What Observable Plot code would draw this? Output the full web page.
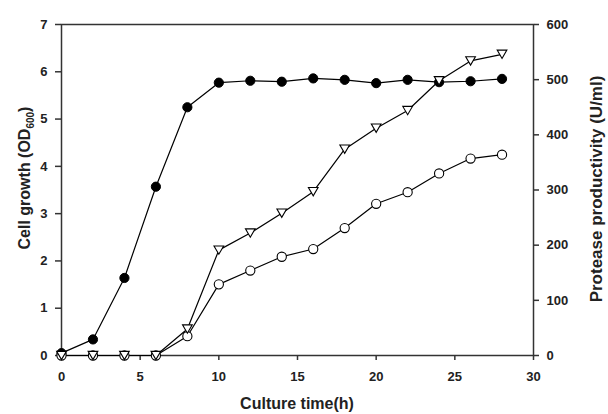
<!DOCTYPE html>
<html>
<head>
<meta charset="utf-8">
<script src="https://cdn.jsdelivr.net/npm/d3@7"></script>
<script src="https://cdn.jsdelivr.net/npm/@observablehq/plot@0.6"></script>
<style>
  html, body { margin: 0; padding: 0; background: white; overflow: hidden; }
  #chart svg { display: block; }
</style>
</head>
<body>
<div id="chart"></div>
<script>
// Culture time (h)
const time = [0, 2, 4, 6, 8, 10, 12, 14, 16, 18, 20, 22, 24, 26, 28];
// Cell growth OD600 (filled circles, left axis)
const cellGrowth = [0.05, 0.34, 1.64, 3.57, 5.25, 5.77, 5.81, 5.79, 5.86, 5.83, 5.76, 5.83, 5.78, 5.80, 5.85];
// Protease productivity U/ml (open triangles, right axis)
const proteaseTri = [0, 0, 0, 0, 48, 191, 222, 258, 297, 374, 412, 444, 498, 534, 546];
// Protease productivity U/ml (open circles, right axis)
const proteaseCirc = [0, 0, 0, 0, 35, 129, 154, 179, 193, 231, 275, 296, 330, 357, 364];

const leftTicks = [0, 1, 2, 3, 4, 5, 6, 7];
const rightTicks = [0, 100, 200, 300, 400, 500, 600];
const xTicks = [0, 5, 10, 15, 20, 25, 30];

const leftMax = 7, rightMax = 600;
const toLeft = v => v * leftMax / rightMax;

const growthData = time.map((t, i) => ({t, v: cellGrowth[i]}));
const triData = time.map((t, i) => ({t, v: toLeft(proteaseTri[i])}));
const circData = time.map((t, i) => ({t, v: toLeft(proteaseCirc[i])}));

const triangleDown = {
  draw(context, size) {
    const s = Math.sqrt(size);
    const h = s * 0.9;
    const w = s * 1.05;
    context.moveTo(-w / 2, -h / 2);
    context.lineTo(w / 2, -h / 2);
    context.lineTo(0, h / 2);
    context.closePath();
  }
};

const axisColor = "#333";
const font = "'Liberation Sans', Arial, sans-serif";

const plot = Plot.plot({
  width: 608,
  height: 414,
  marginLeft: 61,
  marginRight: 75,
  marginTop: 24,
  marginBottom: 59,
  style: {fontFamily: font, fontSize: "13px", fontWeight: "bold", color: "#222", background: "white", overflow: "visible"},
  x: {domain: [0, 30]},
  y: {domain: [0, 7]},
  marks: [
    Plot.frame({stroke: axisColor, strokeWidth: 1.5}),
    Plot.axisX({ticks: xTicks, tickFormat: d => String(d), tickSize: 5, tickPadding: 11, label: null, stroke: axisColor, strokeWidth: 1.5, fontSize: 13, fontWeight: "bold"}),
    Plot.axisY({ticks: leftTicks, tickFormat: d => String(d), tickSize: 6, tickPadding: 8, label: null, stroke: axisColor, strokeWidth: 1.5, fontSize: 13, fontWeight: "bold"}),
    Plot.axisY({anchor: "right", ticks: rightTicks.map(toLeft), tickFormat: v => String(Math.round(v * rightMax / leftMax)), tickSize: 5, tickPadding: 8, label: null, stroke: axisColor, strokeWidth: 1.5, fontSize: 13, fontWeight: "bold"}),
    Plot.line(circData, {x: "t", y: "v", stroke: "black", strokeWidth: 1.2}),
    Plot.line(triData, {x: "t", y: "v", stroke: "black", strokeWidth: 1.2}),
    Plot.line(growthData, {x: "t", y: "v", stroke: "black", strokeWidth: 1.2}),
    Plot.dot(growthData, {x: "t", y: "v", r: 4.6, fill: "black", stroke: "black", strokeWidth: 1}),
    Plot.dot(circData, {x: "t", y: "v", r: 4.6, fill: "white", stroke: "black", strokeWidth: 1.1}),
    Plot.dot(triData, {x: "t", y: "v", symbol: triangleDown, r: 5.2, fill: "white", stroke: "black", strokeWidth: 1.1})
  ]
});

document.getElementById("chart").appendChild(plot);

// Axis titles (real text, with subscript)
const svg = d3.select(plot);
const left = svg.append("text")
  .attr("transform", "translate(30,178) rotate(-90)")
  .attr("text-anchor", "middle")
  .attr("font-family", font).attr("font-weight", "bold").attr("font-size", 16).attr("fill", "#222");
left.append("tspan").text("Cell growth (OD");
left.append("tspan").attr("font-size", 10).attr("dy", 4).text("600");
left.append("tspan").attr("dy", -4).text(")");

svg.append("text")
  .attr("transform", "translate(602,189) rotate(-90)")
  .attr("text-anchor", "middle")
  .attr("font-family", font).attr("font-weight", "bold").attr("font-size", 17).attr("fill", "#222")
  .text("Protease productivity (U/ml)");

svg.append("text")
  .attr("x", 297).attr("y", 409)
  .attr("text-anchor", "middle")
  .attr("font-family", font).attr("font-weight", "bold").attr("font-size", 16).attr("fill", "#222")
  .text("Culture time(h)");
</script>
</body>
</html>
